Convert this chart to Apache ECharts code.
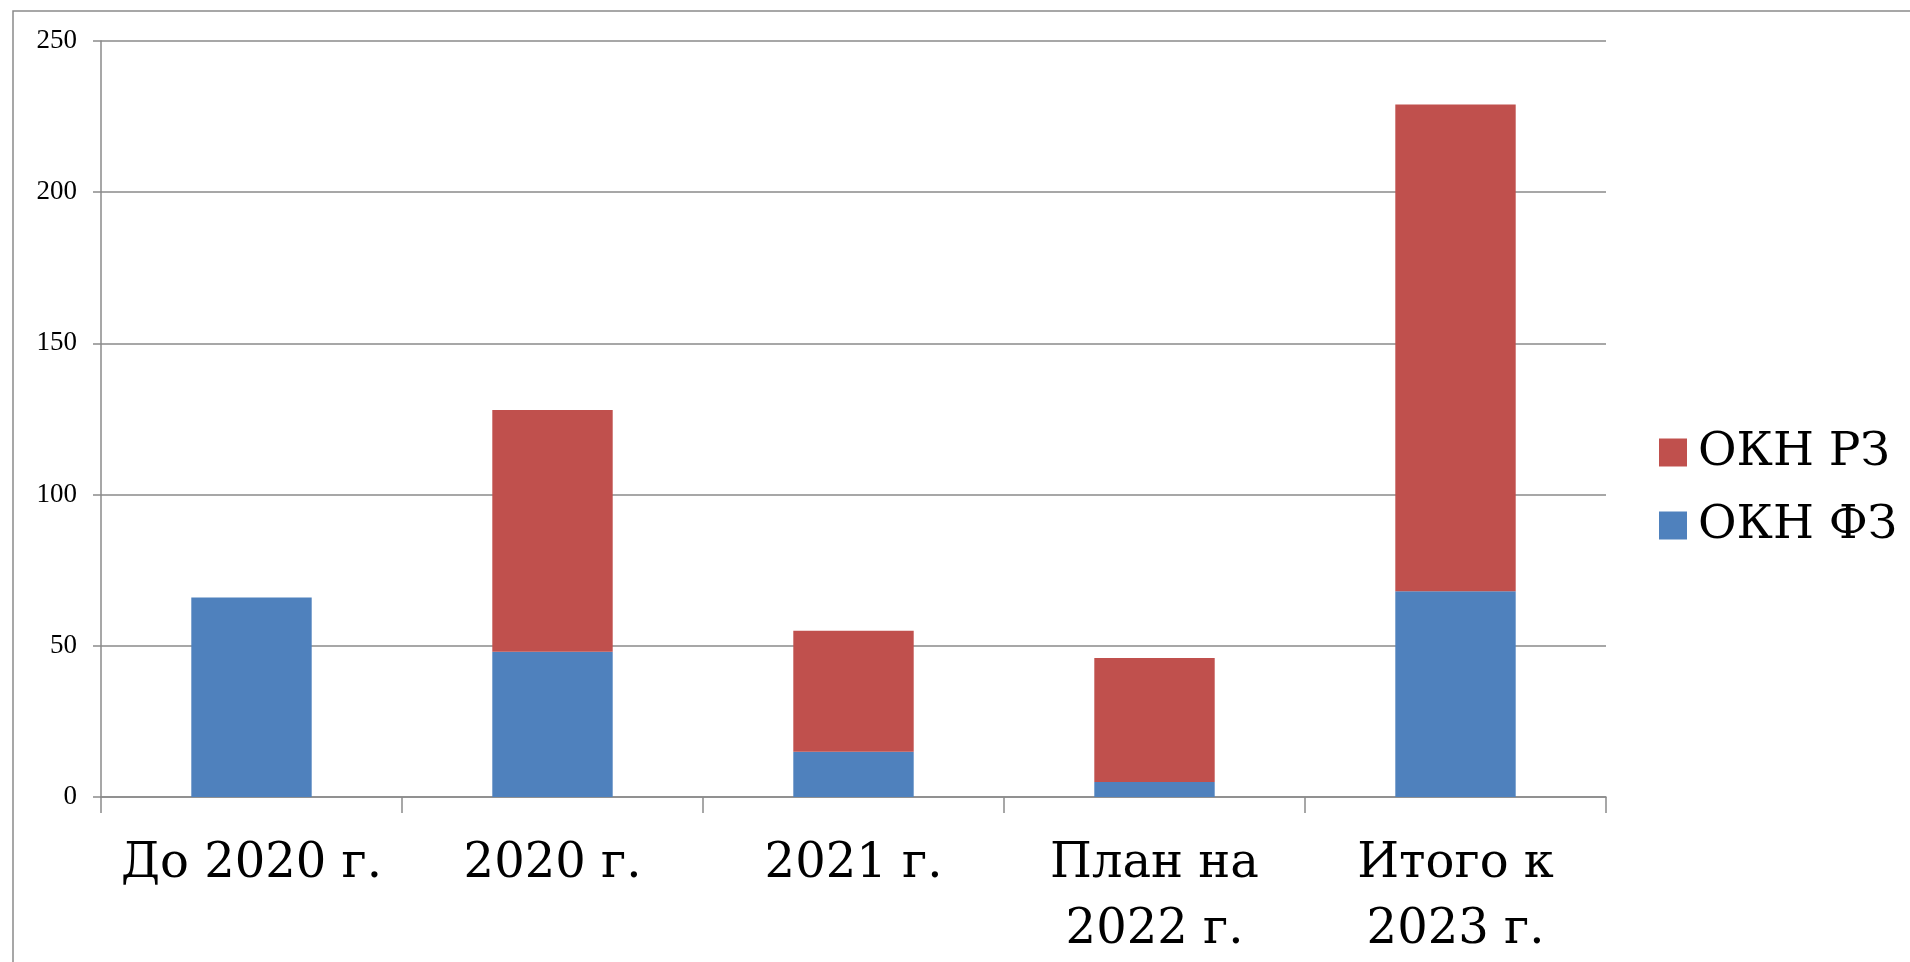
<!DOCTYPE html>
<html><head><meta charset="utf-8">
<script src="https://cdn.jsdelivr.net/npm/echarts@6/dist/echarts.min.js"></script>
<style>html,body{margin:0;padding:0;background:#fff}#c{width:1910px;height:962px}</style>
</head><body><div id="c"></div>
<script>
const categories = ['До 2020 г.', '2020 г.', '2021 г.', 'План на\n2022 г.', 'Итого к\n2023 г.'];
const seriesNames = ['ОКН ФЗ', 'ОКН РЗ'];
const valuesFZ = [66, 48, 15, 5, 68];
const valuesRZ = [0, 80, 40, 41, 161];
const yTicks = [0, 50, 100, 150, 200, 250];

const chart = echarts.init(document.getElementById('c'));
const font = '"DejaVu Serif", "Liberation Serif", serif';
const lineColor = '#8a8a8a';
chart.setOption({
  animation: false,
  backgroundColor: '#fff',
  graphic: [{
    type: 'rect', shape: {x: 13, y: 11, width: 2000, height: 1200},
    style: {fill: 'none', stroke: lineColor, lineWidth: 1.5}, silent: true
  }],
  grid: {left: 101, top: 41, right: 304, bottom: 165, containLabel: false, outerBoundsMode: 'none'},
  legend: {
    orient: 'vertical', left: 1654, top: 424,
    data: [seriesNames[1], seriesNames[0]],
    itemWidth: 28, itemHeight: 28, itemGap: 26,
    icon: 'rect',
    textStyle: {fontFamily: font, fontSize: 47, color: '#000', padding: [0, 0, 0, 6]}
  },
  xAxis: {
    type: 'category', data: categories, boundaryGap: true,
    axisLine: {lineStyle: {color: lineColor, width: 1.5}},
    axisTick: {show: true, length: 16, alignWithLabel: false, lineStyle: {color: lineColor, width: 1.5}},
    axisLabel: {fontFamily: font, fontSize: 48, color: '#000', margin: 35, lineHeight: 66, interval: 0}
  },
  yAxis: {
    type: 'value', min: yTicks[0], max: yTicks[yTicks.length - 1], interval: 50,
    axisLine: {show: true, lineStyle: {color: lineColor, width: 1.5}},
    axisTick: {show: true, length: 8, lineStyle: {color: lineColor, width: 1.5}},
    splitLine: {show: true, lineStyle: {color: lineColor, width: 1.5}},
    axisLabel: {fontFamily: '"Liberation Serif", serif', fontSize: 27, color: '#000', margin: 24}
  },
  series: [
    {name: seriesNames[0], type: 'bar', stack: 'a', data: valuesFZ, barWidth: '40%',
     itemStyle: {color: '#4F81BD'}},
    {name: seriesNames[1], type: 'bar', stack: 'a', data: valuesRZ, barWidth: '40%',
     itemStyle: {color: '#C0504D'}}
  ]
});
</script></body></html>
